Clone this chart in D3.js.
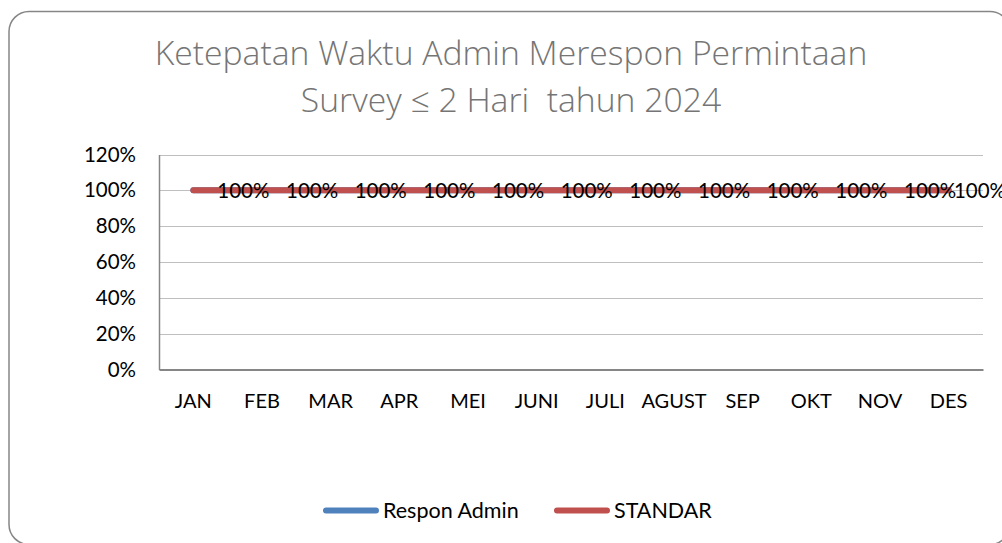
<!DOCTYPE html>
<html>
  <head>
    <meta charset="utf-8">
    <title>Ketepatan Waktu Admin Merespon Permintaan Survey</title>
    <script src="https://cdn.jsdelivr.net/npm/d3@7"></script>
    <style>
      html, body { margin: 0; padding: 0; background: #fff; }
      svg text { font-family: Lato, "Open Sans", sans-serif; }
      #title { font-family: "Open Sans", Lato, sans-serif; font-weight: 300; white-space: pre; }
      .grid line { stroke: #bfbfbf; stroke-width: 1; }
      .axis path, .axis line { stroke: #868686; }
      .tick text { fill: #000; }
    </style>
  </head>
  <body>
    <svg id="chart" width="1002" height="543"></svg>

    <script>
      // chart data
      months = ["JAN", "FEB", "MAR", "APR", "MEI", "JUNI", "JULI", "AGUST", "SEP", "OKT", "NOV", "DES"];
      responAdmin = [1, 1, 1, 1, 1, 1, 1, 1, 1, 1, 1, 1];
      standar = [1, 1, 1, 1, 1, 1, 1, 1, 1, 1, 1, 1];
      yTicks = [0, 0.2, 0.4, 0.6, 0.8, 1, 1.2];
      titleLines = ["Ketepatan Waktu Admin Merespon Permintaan", "Survey \u2264 2 Hari  tahun 2024"];
      seriesNames = ["Respon Admin", "STANDAR"];
      seriesColours = ["#4f81bd", "#c0504d"];

      svg = d3.select("#chart");

      // chart frame
      frame = { x: 9, y: 11.5, width: 1001, height: 533 };
      svg.append("rect")
        .attr("x", frame.x)
        .attr("y", frame.y)
        .attr("width", frame.width)
        .attr("height", frame.height)
        .attr("rx", 20)
        .attr("fill", "#fff")
        .attr("stroke", "#868686")
        .attr("stroke-width", 1.5);

      // title
      svg.append("text")
        .attr("id", "title")
        .attr("x", 511)
        .attr("y", 65)
        .attr("text-anchor", "middle")
        .attr("font-size", 33.7)
        .attr("fill", "#757575")
        .selectAll("tspan")
          .data(titleLines)
        .enter().append("tspan")
          .attr("x", 511)
          .attr("dy", function(d, i) { return i == 0 ? 0 : 47; })
          .text(function(d) { return d; });

      // scales
      plot = { left: 159, right: 983, top: 154.5, bottom: 369.5 };
      x = d3.scaleBand()
        .domain(months)
        .range([plot.left, plot.right]);
      y = d3.scaleLinear()
        .domain([0, 1.2])
        .range([plot.bottom, plot.top]);

      // gridlines
      svg.append("g")
        .attr("class", "grid")
        .selectAll("line")
          .data(yTicks.slice(1))
        .enter().append("line")
          .attr("x1", plot.left)
          .attr("x2", plot.right)
          .attr("y1", function(d) { return Math.round(y(d)) + 0.5; })
          .attr("y2", function(d) { return Math.round(y(d)) + 0.5; });

      // axes
      yAxis = d3.axisLeft(y)
        .tickValues(yTicks)
        .tickFormat(d3.format(".0%"))
        .tickSize(0)
        .tickPadding(23);
      svg.append("g")
        .attr("class", "axis")
        .attr("transform", "translate(" + plot.left + ",0)")
        .call(yAxis)
        .call(function(g) { g.selectAll("text").attr("font-size", 20.5); })
        .select(".domain").attr("stroke-width", 1.5);

      xAxis = d3.axisBottom(x)
        .tickSize(0)
        .tickPadding(24);
      svg.append("g")
        .attr("class", "axis")
        .attr("transform", "translate(0," + plot.bottom + ")")
        .call(xAxis)
        .call(function(g) { g.selectAll("text").attr("font-size", 20); })
        .select(".domain").attr("stroke-width", 2);

      // lines
      line = d3.line()
        .x(function(d, i) { return x(months[i]) + x.bandwidth() / 2; })
        .y(function(d) { return y(d); });

      [responAdmin, standar].forEach(function(series, k) {
        svg.append("path")
          .datum(series)
          .attr("fill", "none")
          .attr("stroke", seriesColours[k])
          .attr("stroke-width", 6)
          .attr("stroke-linecap", "round")
          .attr("stroke-linejoin", "round")
          .attr("d", line);
      });

      // data labels, kept inside the chart frame
      labels = svg.append("g")
        .selectAll("text")
          .data(responAdmin)
        .enter().append("text")
          .attr("font-size", 20.5)
          .attr("fill", "#000")
          .attr("dy", "0.35em")
          .attr("y", function(d) { return y(d); })
          .text(function(d) { return d3.format(".0%")(d); });
      labels.attr("x", function(d, i) {
        var w = this.getComputedTextLength();
        var px = x(months[i]) + x.bandwidth() / 2 + 24;
        return Math.min(px, frame.x + frame.width - 4 - w);
      });

      // legend
      legend = svg.append("g")
        .selectAll("g")
          .data(seriesNames)
        .enter().append("g")
          .attr("transform", function(d, i) { return "translate(" + (i == 0 ? 326 : 557) + ",510.5)"; });
      legend.append("line")
        .attr("x1", 0)
        .attr("x2", 50)
        .attr("stroke", function(d, i) { return seriesColours[i]; })
        .attr("stroke-width", 6)
        .attr("stroke-linecap", "round");
      legend.append("text")
        .attr("x", 57)
        .attr("y", 7)
        .attr("font-size", 21.5)
        .attr("fill", "#000")
        .text(function(d) { return d; });
    </script>
  </body>
</html>
